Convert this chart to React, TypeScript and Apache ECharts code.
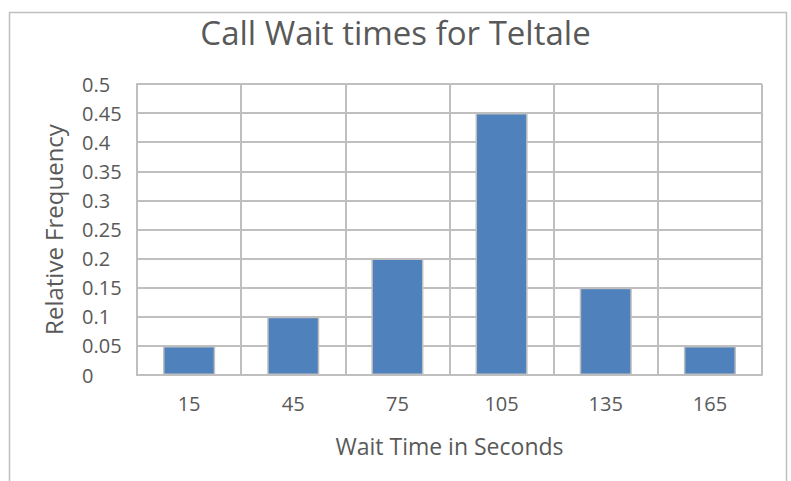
import React, { useEffect, useRef } from "react";
import * as echarts from "echarts";

const categories = ["15", "45", "75", "105", "135", "165"];
const relFreq = [0.05, 0.1, 0.2, 0.45, 0.15, 0.05];
const titleText = "Call Wait times for Teltale";
const xName = "Wait Time in Seconds";
const yName = "Relative Frequency";

const FONT = "'Open Sans', 'Noto Sans', sans-serif";
const TXT = "#595959";
const GRID = "#BFBFBF";

export default function App() {
  const ref = useRef<HTMLDivElement>(null);
  useEffect(() => {
    document.body.style.margin = "0";
    const chart = echarts.init(ref.current!, null, { renderer: "svg" });
    chart.setOption({
      animation: false,
      backgroundColor: "#ffffff",
      title: {
        text: titleText,
        left: "center",
        top: 11,
        textStyle: { fontFamily: FONT, fontSize: 33, fontWeight: "normal", color: TXT },
      },
      graphic: [
        {
          type: "rect",
          shape: { x: 9.5, y: 12.5, width: 777, height: 480 },
          style: { fill: "none", stroke: GRID, lineWidth: 1.5 },
          silent: true,
        },
      ],
      grid: { left: 137, top: 84, right: 29, bottom: 106 },
      xAxis: {
        type: "category",
        data: categories,
        name: xName,
        nameLocation: "middle",
        nameGap: 59,
        nameTextStyle: { fontFamily: FONT, fontSize: 23, color: TXT },
        axisLine: { show: true, lineStyle: { color: GRID, width: 2 } },
        axisTick: { show: false },
        axisLabel: { fontFamily: FONT, fontSize: 20, color: TXT, margin: 18 },
        splitLine: { show: true, lineStyle: { color: GRID, width: 2 } },
      },
      yAxis: {
        type: "value",
        min: 0,
        max: 0.5,
        interval: 0.05,
        name: yName,
        nameLocation: "middle",
        nameGap: 72,
        nameTextStyle: { fontFamily: FONT, fontSize: 24, color: TXT },
        axisLine: { show: true, lineStyle: { color: GRID, width: 2 } },
        axisTick: { show: false },
        axisLabel: {
          fontFamily: FONT,
          fontSize: 20,
          color: TXT,
          align: "left",
          margin: 55,
          formatter: (v: number) => String(Math.round(v * 100) / 100),
        },
        splitLine: { show: true, lineStyle: { color: GRID, width: 2 } },
      },
      series: [
        {
          type: "bar",
          data: relFreq,
          barWidth: "50%",
          itemStyle: { color: "#4F81BD", borderColor: "#BFBFBF", borderWidth: 1.5 },
        },
      ],
    });
    return () => chart.dispose();
  }, []);
  return (
    <div
      ref={ref}
      style={{ position: "absolute", left: 0, top: 0, width: 791, height: 481 }}
    />
  );
}
